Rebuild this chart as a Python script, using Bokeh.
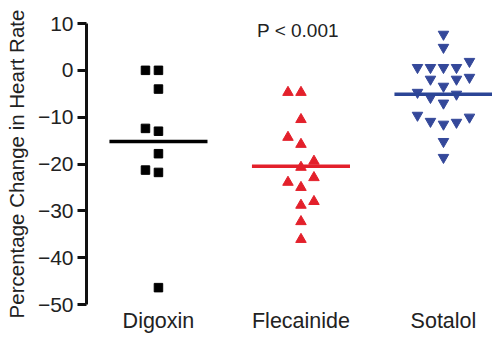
from bokeh.plotting import figure
from bokeh.models import FixedTicker, ColumnDataSource, Label
from bokeh.embed import file_html
from bokeh.resources import INLINE

categories = ["Digoxin", "Flecainide", "Sotalol"]

digoxin_values = [0, 0, -4, -12.4, -13, -17.8, -21.3, -21.8, -46.4]
digoxin_slots = [-1, 0, 0, -1, 0, 0, -1, 0, 0]

flecainide_values = [-4.7, -4.7, -10.5, -14.3, -15.8, -19.4, -20.7, -22.9,
                     -23.9, -25, -28, -28.8, -32.3, -36.1]
flecainide_slots = [-1, 0, 0, -1, 0, 1, 0, 1, -1, 0, 1, 0, 0, 0]

sotalol_values = [7.7, 4.9, 0.6, 0.6, 0.6, 0.6, 1.9, -1.9, -1.9, -1.5, -3.4,
                  -4.7, -5.8, -5.1, -7, -9.6, -10.9, -11.5, -11.1, -10,
                  -15.2, -18.6]
sotalol_slots = [0, 0, -2, -1, 0, 1, 2, -1, 1, 2, 0, -2, -1, 1, 0, -2, -1, 0,
                 1, 2, 0, 0]

group_means = [-15.2, -20.5, -5.1]
y_ticks = [10, 0, -10, -20, -30, -40, -50]
p_text = "P < 0.001"

FONT = "Liberation Sans"
SLOT = 0.0912
HALF = 0.344

p = figure(width=492, height=337, output_backend="svg", toolbar_location=None,
           x_range=(0.495, 3.344), y_range=(-50, 10),
           min_border_left=86, min_border_top=23, min_border_right=0,
           min_border_bottom=33)
p.outline_line_color = None
p.grid.visible = False
p.background_fill_color = "white"
p.border_fill_color = "white"

def pts(idx, vals, slots):
    return ColumnDataSource(dict(x=[idx + 1 + s * SLOT for s in slots], y=vals))

p.scatter("x", "y", source=pts(0, digoxin_values, digoxin_slots), marker="square",
          size=8.5, color="#000000")
p.scatter("x", "y", source=pts(1, flecainide_values, flecainide_slots), marker="triangle",
          size=10.5, color="#e3202b")
p.scatter("x", "y", source=pts(2, sotalol_values, sotalol_slots), marker="inverted_triangle",
          size=10.5, color="#34489a")

line_colors = ["#000000", "#e3202b", "#2b4596"]
p.segment(x0=[i + 1 - HALF for i in range(3)], x1=[i + 1 + HALF for i in range(3)],
          y0=group_means, y1=group_means, line_color=line_colors, line_width=3.5)

p.add_layout(Label(x=2, y=10, y_offset=-7, text=p_text, text_align="center",
                   text_baseline="middle", text_font=FONT, text_font_size="19px",
                   text_color="#222222", x_offset=-3))

# y axis
ya = p.yaxis[0]
ya.ticker = FixedTicker(ticks=y_ticks)
ya.axis_line_width = 3
ya.axis_line_color = "#111111"
ya.major_tick_line_width = 3
ya.major_tick_line_color = "#111111"
ya.major_tick_out = 9
ya.major_tick_in = 0
ya.minor_tick_line_color = None
ya.major_label_text_font = FONT
ya.major_label_text_font_size = "21px"
ya.major_label_text_color = "#222222"
ya.major_label_standoff = 4
ya.axis_label = "Percentage Change in Heart Rate"
ya.axis_label_text_font = FONT
ya.axis_label_text_font_size = "20.5px"
ya.axis_label_text_font_style = "normal"
ya.axis_label_text_color = "#222222"
ya.axis_label_standoff = 7

# x axis (labels only)
xa = p.xaxis[0]
xa.ticker = FixedTicker(ticks=[1, 2, 3])
xa.major_label_overrides = {i + 1: c for i, c in enumerate(categories)}
xa.axis_line_color = None
xa.major_tick_line_color = None
xa.minor_tick_line_color = None
xa.major_tick_out = 0
xa.major_tick_in = 0
xa.major_label_standoff = 4
xa.major_label_text_font = FONT
xa.major_label_text_font_size = "21.5px"
xa.major_label_text_color = "#222222"

open("out.html", "w").write(file_html(p, INLINE))
